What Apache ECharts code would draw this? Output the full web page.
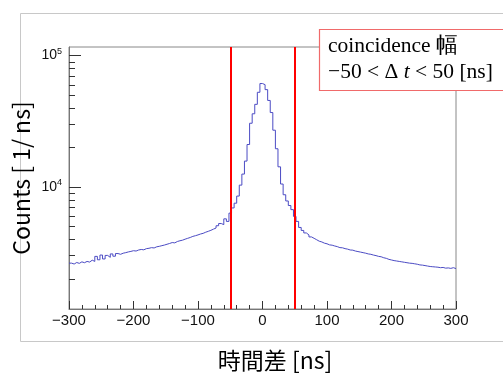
<!DOCTYPE html>
<html>
<head>
<meta charset="utf-8">
<script src="https://cdn.jsdelivr.net/npm/echarts@6/dist/echarts.min.js"></script>
<style>
html,body{margin:0;padding:0;background:#fff;}
#c{width:503px;height:374px;}
</style>
</head>
<body>
<div id="c"></div>
<script>
// ---- data ----
const xMin = -300;
const xMax = 300;
const binWidth = 4;
const xTickValues = [-300, -200, -100, 0, 100, 200, 300];
const yTickLabels = ['10^4', '10^5'];
const yMinorTicks = [2000,3000,4000,5000,6000,7000,8000,9000,20000,30000,40000,50000,60000,70000,80000,90000];
const cutLines = [-50, 50];
const legendTitle = 'coincidence 幅';
const legendCut = ['−50 < Δ ', 't', ' < 50 [ns]'];
const xTitle = '時間差 [ns]';
const yTitle = 'Counts [ 1/ ns]';
const counts = [
  2620,2580,2650,2610,2680,2640,2700,2670,2760,2700,
  2950,2780,3020,2820,3000,2900,3080,2960,3100,3060,
  3120,3150,3190,3220,3260,3240,3300,3330,3310,3380,
  3400,3440,3420,3490,3520,3560,3600,3650,3700,3760,
  3740,3830,3880,3920,3990,4050,4110,4190,4240,4300,
  4370,4420,4510,4580,4660,4760,4850,5050,5250,5150,
  5700,5450,6300,6900,7500,8500,10300,12500,15700,21000,
  30500,36000,42500,52500,61200,60000,55000,45500,36800,27000,
  19500,14200,10500,8700,7800,7200,6700,5950,5450,4900,
  4650,4450,4300,4150,4050,3950,3850,3800,3720,3680,
  3610,3590,3540,3500,3440,3430,3380,3350,3300,3290,
  3240,3210,3180,3150,3120,3080,3060,3020,2990,2950,
  2930,2880,2850,2800,2770,2740,2720,2700,2680,2660,
  2640,2620,2610,2590,2570,2540,2530,2510,2490,2470,
  2460,2450,2440,2420,2430,2400,2410,2390,2420,2380
];
const yMin = 1172;
const yMax = 116200;

// ---- build ----
const histData = counts.map((c, i) => [xMin + i * binWidth, c]);
histData.push([xMax, counts[counts.length - 1]]);

const chart = echarts.init(document.getElementById('c'));
const tickColor = '#333';
const staticGraphics = [
  {type: 'rect', shape: {x: 20.5, y: 13.5, width: 520, height: 328}, style: {fill: 'none', stroke: '#c8c8c8', lineWidth: 1}, z: -10, silent: true},
  {type: 'text', x: 275, y: 360, style: {text: xTitle, fontFamily: 'Noto Sans CJK JP', fontSize: 23, fill: '#000', align: 'center', verticalAlign: 'middle'}},
  {type: 'text', x: 21, y: 178, rotation: Math.PI / 2, style: {text: yTitle, fontFamily: 'Noto Sans CJK JP', fontSize: 23, fill: '#000', align: 'center', verticalAlign: 'middle'}},
  {type: 'rect', z: 100, shape: {x: 319.5, y: 29.5, width: 200, height: 61}, style: {fill: '#fff', stroke: '#f06a6a', lineWidth: 1.2}},
  {type: 'text', z: 101, x: 328, y: 46, style: {text: legendTitle, fontFamily: 'Liberation Serif', fontSize: 21.5, fill: '#000', verticalAlign: 'middle'}},
  {type: 'text', z: 101, x: 328, y: 72, style: {
    text: '{r|' + legendCut[0] + '}{i|' + legendCut[1] + '}{r|' + legendCut[2] + '}',
    verticalAlign: 'middle',
    rich: {
      r: {fontFamily: 'Liberation Serif', fontSize: 21.5, fill: '#000'},
      i: {fontFamily: 'Liberation Serif', fontStyle: 'italic', fontSize: 21.5, fill: '#000'}
    }
  }}
];
chart.setOption({
  animation: false,
  backgroundColor: '#fff',
  grid: {left: 69, top: 47, right: 47, bottom: 65, show: true, borderColor: '#888', borderWidth: 1},
  xAxis: {
    type: 'value', min: xMin, max: xMax, interval: 100,
    axisLine: {show: true, onZero: false, lineStyle: {color: '#777', width: 1}},
    axisTick: {show: true, inside: true, length: 8, lineStyle: {color: tickColor}},
    minorTick: {show: true, splitNumber: 5, length: 4, lineStyle: {color: tickColor}},
    splitLine: {show: false},
    axisLabel: {
      margin: 4, color: '#111', fontFamily: 'Liberation Sans', fontSize: 15,
      formatter: v => xTickValues.indexOf(v) >= 0 ? String(v).replace('-', '−') : ''
    }
  },
  yAxis: {
    type: 'log', min: yMin, max: yMax,
    axisLine: {show: true, onZero: false, lineStyle: {color: '#777', width: 1}},
    axisTick: {show: true, inside: true, length: 12, lineStyle: {color: tickColor, width: 1}},
    splitLine: {show: false},
    axisLabel: {
      margin: 7, showMinLabel: false, showMaxLabel: false,
      formatter: v => {
        const e = Math.log10(v);
        const r = Math.round(e);
        if (Math.abs(e - r) > 1e-6) return '';
        const lbl = yTickLabels.find(s => s === '10^' + r);
        if (!lbl) return '';
        const parts = lbl.split('^');
        return '{b|' + parts[0] + '}{s|' + parts[1] + '}';
      },
      rich: {
        b: {fontFamily: 'Liberation Sans', fontSize: 14, color: '#111'},
        s: {fontFamily: 'Liberation Sans', fontSize: 9, color: '#111', padding: [0, 0, 9, 0]}
      }
    }
  },
  series: [
    {
      type: 'line', data: histData, step: 'end', symbol: 'none',
      lineStyle: {color: '#4b4bc4', width: 1},
      z: 3,
      markLine: {
        silent: true, symbol: ['none', 'none'], animation: false,
        label: {show: false},
        lineStyle: {color: '#ff0000', width: 2, type: 'solid'},
        data: cutLines.map(v => ({xAxis: v}))
      }
    }
  ],
  graphic: staticGraphics
});

// y-axis minor ticks placed through the chart's own log scale
const tickGraphics = yMinorTicks.map(v => {
  const p = chart.convertToPixel({gridIndex: 0}, [xMin, v]);
  const y = Math.round(p[1]) + 0.5;
  return {type: 'line', z: 50, silent: true,
    shape: {x1: p[0], y1: y, x2: p[0] + 6, y2: y},
    style: {stroke: tickColor, lineWidth: 1}};
});
chart.setOption({graphic: staticGraphics.concat(tickGraphics)}, {replaceMerge: ['graphic']});
</script>
</body>
</html>
